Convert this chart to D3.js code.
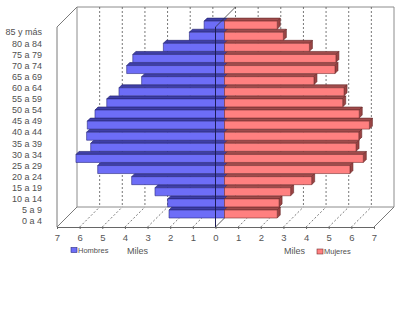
<!DOCTYPE html>
<html>
<head>
<meta charset="utf-8">
<script src="https://cdn.jsdelivr.net/npm/d3@7"></script>
<style>
  body { margin: 0; background: #fff; }
  svg { display: block; font-family: Arial, "Liberation Sans", sans-serif; }
</style>
</head>
<body>
<svg></svg>
<script>
let ageGroups = ['85 y más', '80 a 84', '75 a 79', '70 a 74', '65 a 69', '60 a 64',
  '55 a 59', '50 a 54', '45 a 49', '40 a 44', '35 a 39', '30 a 34',
  '25 a 29', '20 a 24', '15 a 19', '10 a 14', '5 a 9', '0 a 4'];

// miles de personas
let hombres = [0.9, 1.55, 2.7, 4.05, 4.32, 3.66, 4.66, 5.2, 5.72, 6.06, 6.09, 5.91,
  6.56, 5.6, 4.1, 3.07, 2.51, 2.45];
let mujeres = [2.33, 2.6, 3.75, 4.92, 4.88, 3.95, 5.28, 5.22, 5.95, 6.4, 5.93, 5.81,
  6.13, 5.54, 3.85, 2.92, 2.41, 2.33];

let xTicks = [-7, -6, -5, -4, -3, -2, -1, 0, 1, 2, 3, 4, 5, 6, 7];

let width = 400;
let height = 319;
let depth = 20;     // desplazamiento 3D (px)
let z0 = 0.45;      // cara frontal de las barras
let z1 = 0.6;       // cara trasera de las barras

let svg = d3.select('svg')
  .attr('width', width)
  .attr('height', height)

let xScale = d3.scaleLinear()
  .domain([-7, 7])
  .range([57, 374])

let yScale = d3.scaleBand()
  .domain(ageGroups)
  .range([27, 227])

let yTop = yScale.range()[0];
let yBottom = yScale.range()[1];

// punto en el espacio -> pantalla
let P = (v, yy, z) => [xScale(v) + depth * z, yy - depth * z];
let poly = (pts) => 'M' + pts.map(p => p.join(',')).join('L') + 'Z';
let line = (a, b) => 'M' + a.join(',') + 'L' + b.join(',');

let drawWalls = () => {
  let g = svg.append('g');

  // pared del fondo
  g.append('path')
    .attr('d', poly([P(-7, yTop, 1), P(7, yTop, 1), P(7, yBottom, 1), P(-7, yBottom, 1)]))
    .attr('fill', 'none')
    .attr('stroke', '#8c8c8c')
    .attr('stroke-width', 1)

  let grid = xTicks.filter(v => v > -7 && v < 7);

  g.selectAll('.back-grid')
    .data(grid)
    .enter()
    .append('path')
    .attr('d', v => line(P(v, yTop, 1), P(v, yBottom, 1)))
    .attr('stroke', '#555')
    .attr('stroke-width', 0.8)
    .attr('stroke-dasharray', '2,2')

  g.selectAll('.floor-grid')
    .data(grid)
    .enter()
    .append('path')
    .attr('d', v => line(P(v, yBottom, 0), P(v, yBottom, 1)))
    .attr('stroke', v => v === 0 ? '#333' : '#555')
    .attr('stroke-width', 0.8)
    .attr('stroke-dasharray', v => v === 0 ? null : '2,2')

  // bordes del suelo y pared lateral
  let edges = [
    [P(-7, yBottom, 0), P(-7, yBottom, 1)],
    [P(7, yBottom, 0), P(7, yBottom, 1)],
    [P(-7, yTop, 0), P(-7, yBottom, 0)],
    [P(-7, yTop, 0), P(-7, yTop, 1)]
  ];
  g.selectAll('.edge')
    .data(edges)
    .enter()
    .append('path')
    .attr('d', d => line(d[0], d[1]))
    .attr('stroke', '#7a7a7a')
    .attr('stroke-width', 1)
    .attr('fill', 'none')
}

let drawBars = () => {
  let band = yScale.bandwidth();
  let rows = ageGroups.map((c, i) => ({ cat: c, h: hombres[i], m: mujeres[i] })).reverse();

  let g = svg.append('g');

  rows.forEach(r => {
    let yt = yScale(r.cat) + band * 0.28;
    let yb = yScale(r.cat) + band;

    // hombres (a la izquierda)
    let a = -r.h, b = 0;
    g.append('path')
      .attr('d', poly([P(a, yt, z0), P(b, yt, z0), P(b, yt, z1), P(a, yt, z1)]))
      .attr('fill', '#3f3fa6')
      .attr('stroke', '#1f1f6a')
      .attr('stroke-width', 0.6)
    g.append('path')
      .attr('d', poly([P(a, yt, z0), P(b, yt, z0), P(b, yb, z0), P(a, yb, z0)]))
      .attr('fill', '#6d6df7')
      .attr('stroke', '#2a2a80')
      .attr('stroke-width', 0.6)

    // mujeres (a la derecha)
    a = 0; b = r.m;
    g.append('path')
      .attr('d', poly([P(a, yt, z0), P(b, yt, z0), P(b, yt, z1), P(a, yt, z1)]))
      .attr('fill', '#a04c4c')
      .attr('stroke', '#652626')
      .attr('stroke-width', 0.6)
    g.append('path')
      .attr('d', poly([P(b, yt, z0), P(b, yt, z1), P(b, yb, z1), P(b, yb, z0)]))
      .attr('fill', '#9a4444')
      .attr('stroke', '#652626')
      .attr('stroke-width', 0.6)
    g.append('path')
      .attr('d', poly([P(a, yt, z0), P(b, yt, z0), P(b, yb, z0), P(a, yb, z0)]))
      .attr('fill', '#ff8080')
      .attr('stroke', '#7a3030')
      .attr('stroke-width', 0.6)
  })

  // plano del cero
  g.append('path')
    .attr('d', line(P(0, yTop, 0), P(0, yBottom, 0)))
    .attr('stroke', '#1c1c55')
    .attr('stroke-width', 1)
  g.append('path')
    .attr('d', line(P(0, yTop, 0), P(0, yTop, 1)))
    .attr('stroke', '#333')
    .attr('stroke-width', 0.8)
}

let drawAxis = () => {
  let xAxis = d3.axisBottom(xScale)
    .tickValues(xTicks)
    .tickFormat(v => Math.abs(v))
    .tickSize(2)
    .tickSizeOuter(0)
    .tickPadding(5)

  let gx = svg.append('g')
    .attr('transform', `translate(0, ${yBottom})`)
    .call(xAxis)
  gx.select('.domain').attr('stroke', '#666')
  gx.selectAll('.tick line').attr('stroke', '#666')
  gx.selectAll('text')
    .attr('font-size', 9.5)
    .attr('fill', '#555')
    .attr('font-family', 'Arial, "Liberation Sans", sans-serif')

  let yAxis = d3.axisLeft(yScale)
    .tickSize(0)
    .tickPadding(4)

  let gy = svg.append('g')
    .attr('transform', 'translate(46, 0)')
    .call(yAxis)
  gy.select('.domain').remove()
  gy.selectAll('text')
    .attr('font-size', 9)
    .attr('fill', '#505050')
    .attr('font-family', 'Arial, "Liberation Sans", sans-serif')
}

let drawLegend = () => {
  let g = svg.append('g')
    .attr('font-family', 'Arial, "Liberation Sans", sans-serif')

  g.append('rect')
    .attr('x', 71).attr('y', 247.5).attr('width', 6).attr('height', 5)
    .attr('fill', '#6d6df7').attr('stroke', '#2a2a80').attr('stroke-width', 0.6)
  g.append('text')
    .attr('x', 78).attr('y', 252.5)
    .attr('font-size', 7.5).attr('fill', '#505050')
    .text('Hombres')
  g.append('text')
    .attr('x', 127).attr('y', 253.5)
    .attr('font-size', 9).attr('fill', '#555')
    .text('Miles')

  g.append('text')
    .attr('x', 284).attr('y', 253.5)
    .attr('font-size', 9).attr('fill', '#555')
    .text('Miles')
  g.append('rect')
    .attr('x', 317).attr('y', 249).attr('width', 6).attr('height', 5)
    .attr('fill', '#ff8080').attr('stroke', '#7a3030').attr('stroke-width', 0.6)
  g.append('text')
    .attr('x', 324).attr('y', 254)
    .attr('font-size', 7.5).attr('fill', '#505050')
    .text('Mujeres')
}

drawWalls()
drawBars()
drawAxis()
drawLegend()
</script>
</body>
</html>
